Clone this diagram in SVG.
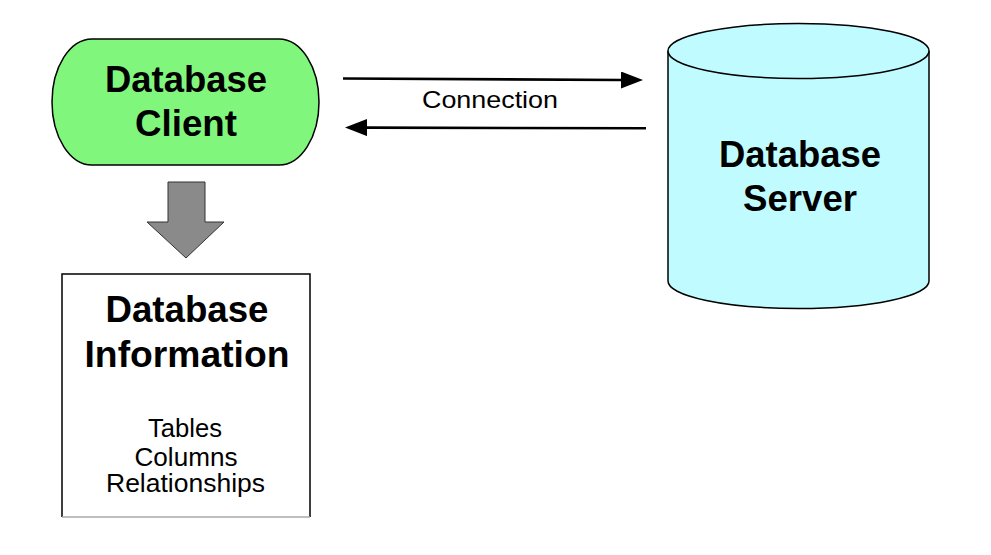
<svg xmlns="http://www.w3.org/2000/svg" width="991" height="555" viewBox="0 0 991 555">
  <style>
    .bold { font-family: "Liberation Sans", Arial, sans-serif; font-weight: bold; font-size: 36px; fill: #000; text-anchor: middle; }
    .reg { font-family: "Liberation Sans", Arial, sans-serif; font-size: 25px; fill: #000; text-anchor: middle; }
    .shape { stroke: #000; stroke-width: 1.5; }
    .conn { stroke: #000; stroke-width: 2.6; fill: none; }
  </style>
  <defs>
    <marker id="head" markerUnits="userSpaceOnUse" markerWidth="24" markerHeight="18" refX="0" refY="8.5" orient="auto">
      <path d="M0,0 L22,8.5 L0,17 Z" fill="#000"/>
    </marker>
  </defs>
  <rect x="0" y="0" width="991" height="555" fill="#fff"/>

  <g id="client">
    <path class="shape" d="M92,39 H279 A40,63 0 0 1 279,165 H92 A40,63 0 0 1 92,39 Z" fill="#80f77c"/>
    <text class="bold" x="186" y="92" textLength="162" lengthAdjust="spacingAndGlyphs">Database</text>
    <text class="bold" x="186" y="136" textLength="102" lengthAdjust="spacingAndGlyphs">Client</text>
  </g>

  <g id="server">
    <path class="shape" d="M668,51 V281 A130.5,27.5 0 0 0 929,281 V51" fill="#c0fcff"/>
    <ellipse class="shape" cx="798.5" cy="51" rx="130.5" ry="27.5" fill="#c0fcff"/>
    <text class="bold" x="800" y="167" textLength="162" lengthAdjust="spacingAndGlyphs">Database</text>
    <text class="bold" x="800" y="211" textLength="114" lengthAdjust="spacingAndGlyphs">Server</text>
  </g>

  <g id="info">
    <rect x="62" y="274" width="248" height="243" fill="#fff"/>
    <path class="shape" d="M62,517 V274 H310 V517" fill="none"/>
    <line x1="62" y1="517" x2="310" y2="517" stroke="#a8a8a8" stroke-width="1.5"/>
    <text class="bold" x="187" y="322" textLength="163" lengthAdjust="spacingAndGlyphs">Database</text>
    <text class="bold" x="187" y="367" textLength="205" lengthAdjust="spacingAndGlyphs">Information</text>
    <text class="reg" x="185" y="437" textLength="74" lengthAdjust="spacingAndGlyphs">Tables</text>
    <text class="reg" x="186" y="466" textLength="103" lengthAdjust="spacingAndGlyphs">Columns</text>
    <text class="reg" x="185.5" y="492" textLength="159" lengthAdjust="spacingAndGlyphs">Relationships</text>
  </g>

  <g id="connectors">
    <polygon points="168,182 205,182 205,222 224,222 186,258 147,222 168,222" fill="#8a8a8a" stroke="#333" stroke-width="1"/>
    <line class="conn" x1="343" y1="78.5" x2="621" y2="80" marker-end="url(#head)"/>
    <line class="conn" x1="646" y1="128.3" x2="367" y2="127.6" marker-end="url(#head)"/>
    <text class="reg" x="490" y="108" style="font-size:24px" textLength="136" lengthAdjust="spacingAndGlyphs">Connection</text>
  </g>
</svg>
